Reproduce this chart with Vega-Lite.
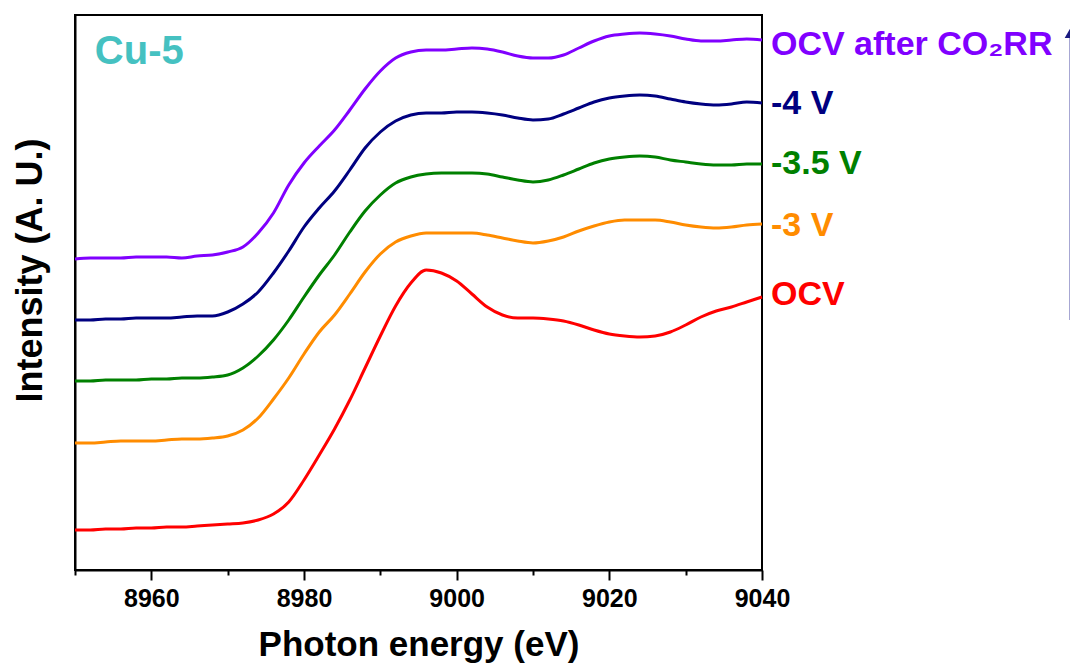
{
  "$schema": "https://vega.github.io/schema/vega-lite/v6.json",
  "autosize": {"type": "none"},
  "width": 687,
  "height": 555,
  "padding": {"left": 75, "top": 15, "right": 308, "bottom": 101},
  "background": "white",
  "config": {
    "view": {"stroke": "black", "strokeWidth": 2},
    "axis": {
      "grid": false,
      "domainColor": "black",
      "domainWidth": 2,
      "tickColor": "black",
      "tickWidth": 2,
      "labelFont": "Liberation Sans",
      "labelFontWeight": "bold",
      "labelFontSize": 25,
      "labelColor": "black",
      "titleFont": "Liberation Sans",
      "titleFontWeight": "bold",
      "titleFontSize": 35,
      "titleColor": "black"
    },
    "text": {"font": "Liberation Sans", "fontWeight": "bold"}
  },
  "datasets": {
    "ocv": [
      {"e": 8950, "v": 0.40}, {"e": 8952, "v": 0.40}, {"e": 8954, "v": 0.41}, {"e": 8956, "v": 0.41}, {"e": 8958, "v": 0.42},
      {"e": 8960, "v": 0.42}, {"e": 8962, "v": 0.43}, {"e": 8964, "v": 0.43}, {"e": 8966, "v": 0.44}, {"e": 8968, "v": 0.45},
      {"e": 8970, "v": 0.46}, {"e": 8972, "v": 0.47}, {"e": 8974, "v": 0.50}, {"e": 8976, "v": 0.56}, {"e": 8978, "v": 0.68},
      {"e": 8980, "v": 0.90}, {"e": 8982, "v": 1.15}, {"e": 8984, "v": 1.41}, {"e": 8986, "v": 1.70}, {"e": 8988, "v": 2.02},
      {"e": 8990, "v": 2.34}, {"e": 8992, "v": 2.64}, {"e": 8994, "v": 2.87}, {"e": 8996, "v": 3.00}, {"e": 8998, "v": 2.97},
      {"e": 9000, "v": 2.89}, {"e": 9002, "v": 2.76}, {"e": 9004, "v": 2.63}, {"e": 9006, "v": 2.55}, {"e": 9008, "v": 2.52},
      {"e": 9010, "v": 2.52}, {"e": 9012, "v": 2.51}, {"e": 9014, "v": 2.49}, {"e": 9016, "v": 2.45}, {"e": 9018, "v": 2.40},
      {"e": 9020, "v": 2.36}, {"e": 9022, "v": 2.34}, {"e": 9024, "v": 2.33}, {"e": 9026, "v": 2.34}, {"e": 9028, "v": 2.38},
      {"e": 9030, "v": 2.45}, {"e": 9032, "v": 2.53}, {"e": 9034, "v": 2.59}, {"e": 9036, "v": 2.63}, {"e": 9038, "v": 2.68},
      {"e": 9040, "v": 2.73}
    ],
    "m3": [
      {"e": 8950, "v": 1.27}, {"e": 8952, "v": 1.27}, {"e": 8954, "v": 1.28}, {"e": 8956, "v": 1.29}, {"e": 8958, "v": 1.29},
      {"e": 8960, "v": 1.29}, {"e": 8962, "v": 1.30}, {"e": 8964, "v": 1.31}, {"e": 8966, "v": 1.31}, {"e": 8968, "v": 1.32},
      {"e": 8970, "v": 1.34}, {"e": 8972, "v": 1.40}, {"e": 8974, "v": 1.52}, {"e": 8976, "v": 1.71}, {"e": 8978, "v": 1.92},
      {"e": 8980, "v": 2.16}, {"e": 8982, "v": 2.38}, {"e": 8984, "v": 2.55}, {"e": 8986, "v": 2.76}, {"e": 8988, "v": 2.98},
      {"e": 8990, "v": 3.16}, {"e": 8992, "v": 3.28}, {"e": 8994, "v": 3.34}, {"e": 8996, "v": 3.37}, {"e": 8998, "v": 3.37},
      {"e": 9000, "v": 3.37}, {"e": 9002, "v": 3.37}, {"e": 9004, "v": 3.35}, {"e": 9006, "v": 3.32}, {"e": 9008, "v": 3.29},
      {"e": 9010, "v": 3.27}, {"e": 9012, "v": 3.29}, {"e": 9014, "v": 3.33}, {"e": 9016, "v": 3.39}, {"e": 9018, "v": 3.44},
      {"e": 9020, "v": 3.48}, {"e": 9022, "v": 3.50}, {"e": 9024, "v": 3.50}, {"e": 9026, "v": 3.50}, {"e": 9028, "v": 3.48},
      {"e": 9030, "v": 3.45}, {"e": 9032, "v": 3.43}, {"e": 9034, "v": 3.42}, {"e": 9036, "v": 3.43}, {"e": 9038, "v": 3.45},
      {"e": 9040, "v": 3.46}
    ],
    "m35": [
      {"e": 8950, "v": 1.89}, {"e": 8952, "v": 1.89}, {"e": 8954, "v": 1.90}, {"e": 8956, "v": 1.90}, {"e": 8958, "v": 1.90},
      {"e": 8960, "v": 1.91}, {"e": 8962, "v": 1.91}, {"e": 8964, "v": 1.92}, {"e": 8966, "v": 1.92}, {"e": 8968, "v": 1.93},
      {"e": 8970, "v": 1.95}, {"e": 8972, "v": 2.02}, {"e": 8974, "v": 2.14}, {"e": 8976, "v": 2.30}, {"e": 8978, "v": 2.50},
      {"e": 8980, "v": 2.73}, {"e": 8982, "v": 2.95}, {"e": 8984, "v": 3.15}, {"e": 8986, "v": 3.38}, {"e": 8988, "v": 3.59},
      {"e": 8990, "v": 3.75}, {"e": 8992, "v": 3.87}, {"e": 8994, "v": 3.93}, {"e": 8996, "v": 3.96}, {"e": 8998, "v": 3.97},
      {"e": 9000, "v": 3.97}, {"e": 9002, "v": 3.97}, {"e": 9004, "v": 3.96}, {"e": 9006, "v": 3.93}, {"e": 9008, "v": 3.90},
      {"e": 9010, "v": 3.88}, {"e": 9012, "v": 3.90}, {"e": 9014, "v": 3.95}, {"e": 9016, "v": 4.01}, {"e": 9018, "v": 4.07},
      {"e": 9020, "v": 4.11}, {"e": 9022, "v": 4.13}, {"e": 9024, "v": 4.14}, {"e": 9026, "v": 4.13}, {"e": 9028, "v": 4.10},
      {"e": 9030, "v": 4.08}, {"e": 9032, "v": 4.06}, {"e": 9034, "v": 4.05}, {"e": 9036, "v": 4.05}, {"e": 9038, "v": 4.06},
      {"e": 9040, "v": 4.06}
    ],
    "m4": [
      {"e": 8950, "v": 2.50}, {"e": 8952, "v": 2.50}, {"e": 8954, "v": 2.51}, {"e": 8956, "v": 2.51}, {"e": 8958, "v": 2.52},
      {"e": 8960, "v": 2.52}, {"e": 8962, "v": 2.52}, {"e": 8964, "v": 2.53}, {"e": 8966, "v": 2.54}, {"e": 8968, "v": 2.54},
      {"e": 8970, "v": 2.58}, {"e": 8972, "v": 2.66}, {"e": 8974, "v": 2.78}, {"e": 8976, "v": 2.97}, {"e": 8978, "v": 3.19},
      {"e": 8980, "v": 3.43}, {"e": 8982, "v": 3.62}, {"e": 8984, "v": 3.79}, {"e": 8986, "v": 4.00}, {"e": 8988, "v": 4.22},
      {"e": 8990, "v": 4.38}, {"e": 8992, "v": 4.49}, {"e": 8994, "v": 4.55}, {"e": 8996, "v": 4.57}, {"e": 8998, "v": 4.57},
      {"e": 9000, "v": 4.58}, {"e": 9002, "v": 4.58}, {"e": 9004, "v": 4.57}, {"e": 9006, "v": 4.55}, {"e": 9008, "v": 4.52},
      {"e": 9010, "v": 4.50}, {"e": 9012, "v": 4.51}, {"e": 9014, "v": 4.56}, {"e": 9016, "v": 4.62}, {"e": 9018, "v": 4.68},
      {"e": 9020, "v": 4.72}, {"e": 9022, "v": 4.74}, {"e": 9024, "v": 4.75}, {"e": 9026, "v": 4.74}, {"e": 9028, "v": 4.71},
      {"e": 9030, "v": 4.68}, {"e": 9032, "v": 4.66}, {"e": 9034, "v": 4.65}, {"e": 9036, "v": 4.66}, {"e": 9038, "v": 4.68},
      {"e": 9040, "v": 4.67}
    ],
    "after": [
      {"e": 8950, "v": 3.11}, {"e": 8952, "v": 3.12}, {"e": 8954, "v": 3.12}, {"e": 8956, "v": 3.12}, {"e": 8958, "v": 3.13},
      {"e": 8960, "v": 3.13}, {"e": 8962, "v": 3.13}, {"e": 8964, "v": 3.12}, {"e": 8966, "v": 3.14}, {"e": 8968, "v": 3.15},
      {"e": 8970, "v": 3.18}, {"e": 8972, "v": 3.23}, {"e": 8974, "v": 3.37}, {"e": 8976, "v": 3.57}, {"e": 8978, "v": 3.85},
      {"e": 8980, "v": 4.07}, {"e": 8982, "v": 4.24}, {"e": 8984, "v": 4.40}, {"e": 8986, "v": 4.60}, {"e": 8988, "v": 4.81},
      {"e": 8990, "v": 4.99}, {"e": 8992, "v": 5.12}, {"e": 8994, "v": 5.18}, {"e": 8996, "v": 5.20}, {"e": 8998, "v": 5.20},
      {"e": 9000, "v": 5.21}, {"e": 9002, "v": 5.22}, {"e": 9004, "v": 5.21}, {"e": 9006, "v": 5.18}, {"e": 9008, "v": 5.14},
      {"e": 9010, "v": 5.12}, {"e": 9012, "v": 5.12}, {"e": 9014, "v": 5.15}, {"e": 9016, "v": 5.22}, {"e": 9018, "v": 5.29},
      {"e": 9020, "v": 5.34}, {"e": 9022, "v": 5.36}, {"e": 9024, "v": 5.37}, {"e": 9026, "v": 5.36}, {"e": 9028, "v": 5.34},
      {"e": 9030, "v": 5.31}, {"e": 9032, "v": 5.29}, {"e": 9034, "v": 5.29}, {"e": 9036, "v": 5.30}, {"e": 9038, "v": 5.31},
      {"e": 9040, "v": 5.30}
    ],
    "labels": [
      {"e": 9040, "v": 5.25, "t": "OCV after CO₂RR"},
      {"e": 9040, "v": 4.66, "t": "-4 V"},
      {"e": 9040, "v": 4.06, "t": "-3.5 V"},
      {"e": 9040, "v": 3.44, "t": "-3 V"},
      {"e": 9040, "v": 2.75, "t": "OCV"}
    ],
    "sample": [{"e": 8952.6, "v": 5.18, "t": "Cu-5"}],
    "arrow": [{"e": 9080.4, "v": 2.5, "v2": 5.37}]
  },
  "encoding": {
    "x": {
      "field": "e",
      "type": "quantitative",
      "scale": {"domain": [8950, 9040], "nice": false, "zero": false},
      "axis": {
        "title": "Photon energy (eV)",
        "values": [8950, 8960, 8970, 8980, 8990, 9000, 9010, 9020, 9030, 9040],
        "format": "d",
        "labelExpr": "datum.value % 20 === 0 ? datum.label : ''",
        "tickSize": {"condition": {"test": "datum.value % 20 === 0", "value": 10}, "value": 5},
        "labelPadding": 6,
        "labelFlush": false,
        "labelOverlap": false,
        "titlePadding": 16
      }
    },
    "y": {
      "field": "v",
      "type": "quantitative",
      "scale": {"domain": [0, 5.55], "nice": false, "zero": false},
      "axis": {
        "title": "Intensity (A. U.)",
        "labels": false,
        "ticks": false,
        "titleFontSize": 36,
        "titlePadding": 26,
        "titleY": 255
      }
    }
  },
  "layer": [
    {"data": {"name": "ocv"}, "mark": {"type": "line", "color": "#ff0000", "strokeWidth": 3, "interpolate": "monotone"}},
    {"data": {"name": "m3"}, "mark": {"type": "line", "color": "#ff8c00", "strokeWidth": 3, "interpolate": "monotone"}},
    {"data": {"name": "m35"}, "mark": {"type": "line", "color": "#008000", "strokeWidth": 3, "interpolate": "monotone"}},
    {"data": {"name": "m4"}, "mark": {"type": "line", "color": "#000080", "strokeWidth": 3, "interpolate": "monotone"}},
    {"data": {"name": "after"}, "mark": {"type": "line", "color": "#8000ff", "strokeWidth": 3, "interpolate": "monotone"}},
    {
      "data": {"name": "labels"},
      "mark": {"type": "text", "align": "left", "baseline": "middle", "dx": 9, "fontSize": 34, "clip": false},
      "encoding": {
        "text": {"field": "t"},
        "color": {
          "field": "t",
          "type": "nominal",
          "scale": {
            "domain": ["OCV after CO₂RR", "-4 V", "-3.5 V", "-3 V", "OCV"],
            "range": ["#8000ff", "#000080", "#008000", "#ff8c00", "#ff0000"]
          },
          "legend": null
        }
      }
    },
    {
      "data": {"name": "sample"},
      "mark": {"type": "text", "align": "left", "baseline": "middle", "fontSize": 40, "color": "#45c1c1"},
      "encoding": {"text": {"field": "t"}}
    },
    {
      "data": {"name": "arrow"},
      "mark": {"type": "rule", "color": "#6f6fb8", "strokeWidth": 2, "clip": false},
      "encoding": {"y2": {"field": "v2"}}
    },
    {
      "data": {"name": "arrow"},
      "mark": {"type": "point", "shape": "triangle-up", "filled": true, "size": 130, "color": "#1a1a80", "opacity": 1, "clip": false},
      "encoding": {"y": {"field": "v2", "type": "quantitative"}}
    }
  ]
}
